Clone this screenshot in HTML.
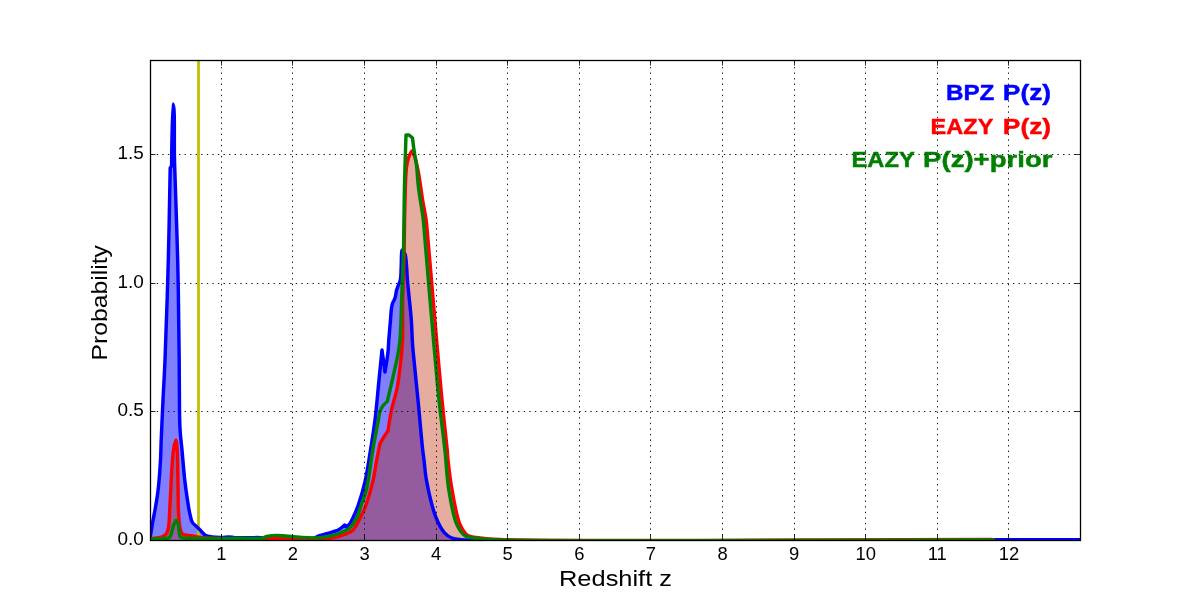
<!DOCTYPE html>
<html><head><meta charset="utf-8"><title>P(z)</title>
<style>html,body{margin:0;padding:0;background:#fff;width:1200px;height:600px;overflow:hidden}svg{display:block}svg{will-change:transform}</style>
</head><body>
<svg width="1200" height="600" viewBox="0 0 1200 600">
<defs><clipPath id="ax"><rect x="150" y="60" width="930" height="480"/></clipPath></defs>
<rect width="1200" height="600" fill="#fff"/>
<g clip-path="url(#ax)">
<path d="M150.00,540.5 L150.00,538.00 C150.40,535.77 150.77,533.81 151.20,531.30 C151.75,528.09 152.34,524.04 153.00,520.30 C153.70,516.38 154.54,512.73 155.30,508.30 C156.24,502.85 157.30,496.87 158.10,490.00 C159.12,481.25 159.98,469.00 160.50,460.00 C160.92,452.67 160.89,447.81 161.20,440.00 C161.64,428.95 162.37,413.33 163.00,400.00 C163.63,386.67 164.32,376.34 165.00,360.00 C166.07,334.18 167.42,292.64 168.30,260.00 C169.14,228.70 170.20,168.00 170.20,168.00 C170.20,168.00 171.60,166.00 171.60,166.00 C171.60,166.00 172.08,104.07 173.00,104.00 C173.29,103.98 173.74,107.01 174.00,110.00 C174.75,118.56 174.09,140.48 174.50,160.00 C175.08,187.62 176.92,226.66 177.70,260.00 C178.48,293.33 178.91,332.39 179.20,360.00 C179.41,379.53 179.27,397.09 179.50,410.00 C179.65,418.17 179.68,423.34 180.10,430.00 C180.52,436.67 181.31,442.66 182.00,450.00 C182.84,458.99 183.80,471.53 184.75,480.00 C185.45,486.25 186.09,490.84 186.90,496.25 C187.71,501.67 188.56,507.80 189.60,512.50 C190.41,516.19 190.85,519.78 192.30,522.25 C193.43,524.18 195.25,525.14 196.70,526.60 C198.15,528.06 199.56,529.55 201.00,531.00 C202.43,532.44 203.56,534.27 205.30,535.25 C207.13,536.28 209.39,536.54 211.80,536.90 C214.71,537.34 218.54,537.42 221.60,537.40 C224.29,537.38 226.84,536.84 229.20,536.90 C231.27,536.96 232.61,537.45 235.00,537.60 C238.83,537.84 245.39,537.66 250.00,537.70 C253.95,537.73 257.91,537.36 261.00,537.80 C263.33,538.13 264.16,539.11 267.00,539.50 C273.54,540.41 291.73,539.78 300.00,539.50 C304.99,539.33 308.53,539.51 312.00,538.70 C314.85,538.03 317.00,536.44 319.50,535.60 C321.90,534.79 324.36,534.36 326.70,533.70 C328.95,533.06 331.22,532.40 333.30,531.70 C335.20,531.06 336.93,530.69 338.70,529.70 C340.74,528.56 344.70,525.00 344.70,525.00 C344.70,525.00 346.30,527.00 346.30,527.00 C346.30,527.00 348.33,525.53 349.30,524.30 C350.69,522.54 351.97,519.77 353.30,517.00 C354.97,513.53 356.65,509.71 358.30,505.00 C360.56,498.56 363.06,490.12 365.00,481.70 C367.23,472.00 368.81,460.43 370.50,450.00 C372.14,439.87 373.66,430.74 375.00,420.00 C376.54,407.64 377.76,392.38 379.00,380.00 C380.07,369.28 382.00,350.00 382.00,350.00 C382.00,350.00 385.00,372.00 385.00,372.00 C385.00,372.00 387.37,357.83 388.00,352.00 C388.49,347.50 388.46,344.51 388.80,340.00 C389.24,334.18 390.01,325.82 390.50,320.00 C390.88,315.49 391.03,311.13 391.50,308.00 C391.81,305.96 392.60,303.00 392.60,303.00 C392.60,303.00 394.36,299.91 395.00,298.00 C395.77,295.69 396.00,292.19 396.60,290.00 C397.03,288.42 397.46,287.46 398.00,286.00 C398.66,284.20 399.76,282.44 400.30,280.00 C401.07,276.48 400.98,271.17 401.20,266.70 C401.42,262.17 401.31,255.84 401.60,253.00 C401.73,251.71 402.10,250.20 402.10,250.20 C402.10,250.20 402.85,251.40 403.30,252.00 C403.80,252.66 404.50,252.82 405.00,254.00 C406.62,257.86 406.85,274.27 407.60,282.00 C408.13,287.47 408.48,290.71 409.00,296.00 C409.68,302.93 410.74,312.36 411.30,320.00 C411.81,326.96 411.97,334.48 412.30,340.00 C412.53,343.91 412.61,345.40 413.00,350.00 C413.88,360.30 416.38,383.33 418.00,400.00 C419.62,416.66 421.55,439.71 422.70,450.00 C423.22,454.61 423.49,456.03 424.00,460.00 C424.74,465.85 425.14,473.60 426.70,481.70 C428.74,492.31 432.47,508.75 436.20,518.00 C438.71,524.22 441.36,529.35 444.50,532.80 C446.80,535.33 449.18,536.86 452.00,538.00 C454.97,539.20 457.58,539.17 462.00,539.60 C470.57,540.43 480.17,540.56 500.00,540.90 C571.33,542.12 992.00,540.90 992.00,540.90 C992.00,540.90 994.00,539.80 994.00,539.80 C994.00,539.80 1054.67,539.80 1085.00,539.80 L1085.00,540.5 Z" fill="#0000ff" fill-opacity="0.5"/>
<path d="M150.00,540.5 L150.00,538.60 C153.00,538.30 156.54,538.23 159.00,537.70 C160.78,537.32 162.24,536.89 163.50,536.20 C164.58,535.61 165.45,535.07 166.20,534.00 C167.26,532.50 167.93,530.24 168.50,527.50 C169.41,523.13 169.33,516.03 169.70,510.00 C170.10,503.56 170.45,496.67 170.80,490.00 C171.15,483.33 171.35,476.66 171.80,470.00 C172.25,463.33 172.61,455.50 173.50,450.00 C174.14,446.07 175.28,439.97 175.90,440.00 C176.51,440.03 176.90,446.09 177.20,450.00 C177.63,455.51 177.55,463.33 177.70,470.00 C177.85,476.67 177.98,483.33 178.10,490.00 C178.22,496.67 178.08,503.56 178.40,510.00 C178.70,516.03 179.01,523.28 179.90,527.50 C180.43,530.00 180.83,532.07 181.90,533.30 C182.71,534.23 183.75,534.50 185.00,534.90 C186.69,535.44 188.89,535.43 191.25,535.80 C194.35,536.28 197.42,537.14 202.00,537.60 C209.98,538.41 224.55,538.51 235.00,538.80 C244.45,539.06 256.24,539.58 262.00,539.30 C264.72,539.17 265.85,538.77 268.00,538.60 C270.47,538.41 272.96,538.29 276.00,538.30 C280.02,538.31 285.72,538.79 290.00,538.90 C293.61,539.00 296.09,538.98 300.00,539.00 C305.52,539.03 314.02,539.29 320.00,539.00 C324.89,538.76 328.90,538.56 333.30,537.70 C337.80,536.82 343.10,535.30 346.70,533.70 C349.38,532.51 351.31,531.71 353.30,529.70 C355.90,527.06 357.93,522.31 360.00,518.30 C362.18,514.09 364.11,510.13 366.00,505.00 C368.44,498.39 371.00,489.38 372.80,481.70 C374.52,474.38 375.42,466.73 376.70,460.00 C377.82,454.12 380.00,443.50 380.00,443.50 C380.00,443.50 382.62,438.84 384.00,436.70 C385.29,434.69 388.00,431.00 388.00,431.00 C388.00,431.00 390.03,416.88 391.50,410.00 C392.94,403.22 395.41,396.10 396.70,390.00 C397.77,384.94 398.25,381.76 399.00,376.00 C400.20,366.80 401.89,352.33 402.50,340.00 C403.15,327.03 402.37,313.33 402.60,300.00 C402.83,286.66 403.53,274.68 403.90,260.00 C404.36,242.02 404.46,217.03 405.00,200.00 C405.40,187.36 405.50,174.52 406.50,167.00 C407.03,163.03 407.52,160.76 408.50,158.00 C409.40,155.46 410.93,151.00 412.00,151.00 C412.90,151.00 413.71,153.86 414.50,156.00 C415.77,159.44 417.02,165.23 418.00,170.00 C419.00,174.89 419.63,180.00 420.40,185.00 C421.17,190.00 421.74,194.65 422.60,200.00 C423.60,206.19 425.20,213.32 426.10,220.00 C427.00,226.65 427.26,231.83 428.00,240.00 C429.17,252.91 430.87,273.33 432.30,290.00 C433.73,306.67 435.07,322.58 436.60,340.00 C438.28,359.09 440.15,380.92 442.00,400.00 C443.69,417.43 446.25,439.70 447.20,450.00 C447.62,454.60 447.55,455.79 448.00,460.00 C448.78,467.26 450.14,479.38 452.00,489.60 C454.04,500.78 456.37,516.26 460.00,524.40 C462.24,529.42 464.36,533.26 467.80,535.50 C471.10,537.64 475.41,537.27 480.00,537.90 C485.83,538.70 488.89,539.06 500.00,539.50 C555.12,541.71 829.00,539.57 993.50,539.60 L993.50,540.5 Z" fill="#ff0000" fill-opacity="0.3"/>
<path d="M150.00,540.5 L150.00,538.60 C153.00,538.30 156.54,538.23 159.00,537.70 C160.78,537.32 162.24,536.89 163.50,536.20 C164.58,535.61 165.45,535.07 166.20,534.00 C167.26,532.50 167.93,530.24 168.50,527.50 C169.41,523.13 169.33,516.03 169.70,510.00 C170.10,503.56 170.45,496.67 170.80,490.00 C171.15,483.33 171.35,476.66 171.80,470.00 C172.25,463.33 172.61,455.50 173.50,450.00 C174.14,446.07 175.28,439.97 175.90,440.00 C176.51,440.03 176.90,446.09 177.20,450.00 C177.63,455.51 177.55,463.33 177.70,470.00 C177.85,476.67 177.98,483.33 178.10,490.00 C178.22,496.67 178.08,503.56 178.40,510.00 C178.70,516.03 179.01,523.28 179.90,527.50 C180.43,530.00 180.83,532.07 181.90,533.30 C182.71,534.23 183.75,534.50 185.00,534.90 C186.69,535.44 188.89,535.43 191.25,535.80 C194.35,536.28 197.42,537.14 202.00,537.60 C209.98,538.41 224.55,538.51 235.00,538.80 C244.45,539.06 256.24,539.58 262.00,539.30 C264.72,539.17 265.85,538.77 268.00,538.60 C270.47,538.41 272.96,538.29 276.00,538.30 C280.02,538.31 285.72,538.79 290.00,538.90 C293.61,539.00 296.09,538.98 300.00,539.00 C305.52,539.03 314.02,539.29 320.00,539.00 C324.89,538.76 328.90,538.56 333.30,537.70 C337.80,536.82 343.10,535.30 346.70,533.70 C349.38,532.51 351.31,531.71 353.30,529.70 C355.90,527.06 357.93,522.31 360.00,518.30 C362.18,514.09 364.11,510.13 366.00,505.00 C368.44,498.39 371.00,489.38 372.80,481.70 C374.52,474.38 375.42,466.73 376.70,460.00 C377.82,454.12 380.00,443.50 380.00,443.50 C380.00,443.50 382.62,438.84 384.00,436.70 C385.29,434.69 388.00,431.00 388.00,431.00 C388.00,431.00 390.03,416.88 391.50,410.00 C392.94,403.22 395.41,396.10 396.70,390.00 C397.77,384.94 398.25,381.76 399.00,376.00 C400.20,366.80 401.89,352.33 402.50,340.00 C403.15,327.03 402.37,313.33 402.60,300.00 C402.83,286.66 403.53,274.68 403.90,260.00 C404.36,242.02 404.46,217.03 405.00,200.00 C405.40,187.36 405.50,174.52 406.50,167.00 C407.03,163.03 407.52,160.76 408.50,158.00 C409.40,155.46 410.93,151.00 412.00,151.00 C412.90,151.00 413.71,153.86 414.50,156.00 C415.77,159.44 417.02,165.23 418.00,170.00 C419.00,174.89 419.63,180.00 420.40,185.00 C421.17,190.00 421.74,194.65 422.60,200.00 C423.60,206.19 425.20,213.32 426.10,220.00 C427.00,226.65 427.26,231.83 428.00,240.00 C429.17,252.91 430.87,273.33 432.30,290.00 C433.73,306.67 435.07,322.58 436.60,340.00 C438.28,359.09 440.15,380.92 442.00,400.00 C443.69,417.43 446.25,439.70 447.20,450.00 C447.62,454.60 447.55,455.79 448.00,460.00 C448.78,467.26 450.14,479.38 452.00,489.60 C454.04,500.78 456.37,516.26 460.00,524.40 C462.24,529.42 464.36,533.26 467.80,535.50 C471.10,537.64 475.41,537.27 480.00,537.90 C485.83,538.70 488.89,539.06 500.00,539.50 C555.12,541.71 829.00,539.57 993.50,539.60 L993.50,540.5 Z" fill="#008000" fill-opacity="0.1"/>
<line x1="198.5" y1="60" x2="198.5" y2="540" stroke="#bfbf00" stroke-width="2.8"/>
<g fill="none" stroke-width="3.45" stroke-linejoin="round" stroke-linecap="round">
<path d="M150.00,538.00 C150.40,535.77 150.77,533.81 151.20,531.30 C151.75,528.09 152.34,524.04 153.00,520.30 C153.70,516.38 154.54,512.73 155.30,508.30 C156.24,502.85 157.30,496.87 158.10,490.00 C159.12,481.25 159.98,469.00 160.50,460.00 C160.92,452.67 160.89,447.81 161.20,440.00 C161.64,428.95 162.37,413.33 163.00,400.00 C163.63,386.67 164.32,376.34 165.00,360.00 C166.07,334.18 167.42,292.64 168.30,260.00 C169.14,228.70 170.20,168.00 170.20,168.00 C170.20,168.00 171.60,166.00 171.60,166.00 C171.60,166.00 172.08,104.07 173.00,104.00 C173.29,103.98 173.74,107.01 174.00,110.00 C174.75,118.56 174.09,140.48 174.50,160.00 C175.08,187.62 176.92,226.66 177.70,260.00 C178.48,293.33 178.91,332.39 179.20,360.00 C179.41,379.53 179.27,397.09 179.50,410.00 C179.65,418.17 179.68,423.34 180.10,430.00 C180.52,436.67 181.31,442.66 182.00,450.00 C182.84,458.99 183.80,471.53 184.75,480.00 C185.45,486.25 186.09,490.84 186.90,496.25 C187.71,501.67 188.56,507.80 189.60,512.50 C190.41,516.19 190.85,519.78 192.30,522.25 C193.43,524.18 195.25,525.14 196.70,526.60 C198.15,528.06 199.56,529.55 201.00,531.00 C202.43,532.44 203.56,534.27 205.30,535.25 C207.13,536.28 209.39,536.54 211.80,536.90 C214.71,537.34 218.54,537.42 221.60,537.40 C224.29,537.38 226.84,536.84 229.20,536.90 C231.27,536.96 232.61,537.45 235.00,537.60 C238.83,537.84 245.39,537.66 250.00,537.70 C253.95,537.73 257.91,537.36 261.00,537.80 C263.33,538.13 264.16,539.11 267.00,539.50 C273.54,540.41 291.73,539.78 300.00,539.50 C304.99,539.33 308.53,539.51 312.00,538.70 C314.85,538.03 317.00,536.44 319.50,535.60 C321.90,534.79 324.36,534.36 326.70,533.70 C328.95,533.06 331.22,532.40 333.30,531.70 C335.20,531.06 336.93,530.69 338.70,529.70 C340.74,528.56 344.70,525.00 344.70,525.00 C344.70,525.00 346.30,527.00 346.30,527.00 C346.30,527.00 348.33,525.53 349.30,524.30 C350.69,522.54 351.97,519.77 353.30,517.00 C354.97,513.53 356.65,509.71 358.30,505.00 C360.56,498.56 363.06,490.12 365.00,481.70 C367.23,472.00 368.81,460.43 370.50,450.00 C372.14,439.87 373.66,430.74 375.00,420.00 C376.54,407.64 377.76,392.38 379.00,380.00 C380.07,369.28 382.00,350.00 382.00,350.00 C382.00,350.00 385.00,372.00 385.00,372.00 C385.00,372.00 387.37,357.83 388.00,352.00 C388.49,347.50 388.46,344.51 388.80,340.00 C389.24,334.18 390.01,325.82 390.50,320.00 C390.88,315.49 391.03,311.13 391.50,308.00 C391.81,305.96 392.60,303.00 392.60,303.00 C392.60,303.00 394.36,299.91 395.00,298.00 C395.77,295.69 396.00,292.19 396.60,290.00 C397.03,288.42 397.46,287.46 398.00,286.00 C398.66,284.20 399.76,282.44 400.30,280.00 C401.07,276.48 400.98,271.17 401.20,266.70 C401.42,262.17 401.31,255.84 401.60,253.00 C401.73,251.71 402.10,250.20 402.10,250.20 C402.10,250.20 402.85,251.40 403.30,252.00 C403.80,252.66 404.50,252.82 405.00,254.00 C406.62,257.86 406.85,274.27 407.60,282.00 C408.13,287.47 408.48,290.71 409.00,296.00 C409.68,302.93 410.74,312.36 411.30,320.00 C411.81,326.96 411.97,334.48 412.30,340.00 C412.53,343.91 412.61,345.40 413.00,350.00 C413.88,360.30 416.38,383.33 418.00,400.00 C419.62,416.66 421.55,439.71 422.70,450.00 C423.22,454.61 423.49,456.03 424.00,460.00 C424.74,465.85 425.14,473.60 426.70,481.70 C428.74,492.31 432.47,508.75 436.20,518.00 C438.71,524.22 441.36,529.35 444.50,532.80 C446.80,535.33 449.18,536.86 452.00,538.00 C454.97,539.20 457.58,539.17 462.00,539.60 C470.57,540.43 480.17,540.56 500.00,540.90 C571.33,542.12 992.00,540.90 992.00,540.90 C992.00,540.90 994.00,539.80 994.00,539.80 C994.00,539.80 1054.67,539.80 1085.00,539.80" stroke="#0000ff"/>
<path d="M150.00,538.60 C153.00,538.30 156.54,538.23 159.00,537.70 C160.78,537.32 162.24,536.89 163.50,536.20 C164.58,535.61 165.45,535.07 166.20,534.00 C167.26,532.50 167.93,530.24 168.50,527.50 C169.41,523.13 169.33,516.03 169.70,510.00 C170.10,503.56 170.45,496.67 170.80,490.00 C171.15,483.33 171.35,476.66 171.80,470.00 C172.25,463.33 172.61,455.50 173.50,450.00 C174.14,446.07 175.28,439.97 175.90,440.00 C176.51,440.03 176.90,446.09 177.20,450.00 C177.63,455.51 177.55,463.33 177.70,470.00 C177.85,476.67 177.98,483.33 178.10,490.00 C178.22,496.67 178.08,503.56 178.40,510.00 C178.70,516.03 179.01,523.28 179.90,527.50 C180.43,530.00 180.83,532.07 181.90,533.30 C182.71,534.23 183.75,534.50 185.00,534.90 C186.69,535.44 188.89,535.43 191.25,535.80 C194.35,536.28 197.42,537.14 202.00,537.60 C209.98,538.41 224.55,538.51 235.00,538.80 C244.45,539.06 256.24,539.58 262.00,539.30 C264.72,539.17 265.85,538.77 268.00,538.60 C270.47,538.41 272.96,538.29 276.00,538.30 C280.02,538.31 285.72,538.79 290.00,538.90 C293.61,539.00 296.09,538.98 300.00,539.00 C305.52,539.03 314.02,539.29 320.00,539.00 C324.89,538.76 328.90,538.56 333.30,537.70 C337.80,536.82 343.10,535.30 346.70,533.70 C349.38,532.51 351.31,531.71 353.30,529.70 C355.90,527.06 357.93,522.31 360.00,518.30 C362.18,514.09 364.11,510.13 366.00,505.00 C368.44,498.39 371.00,489.38 372.80,481.70 C374.52,474.38 375.42,466.73 376.70,460.00 C377.82,454.12 380.00,443.50 380.00,443.50 C380.00,443.50 382.62,438.84 384.00,436.70 C385.29,434.69 388.00,431.00 388.00,431.00 C388.00,431.00 390.03,416.88 391.50,410.00 C392.94,403.22 395.41,396.10 396.70,390.00 C397.77,384.94 398.25,381.76 399.00,376.00 C400.20,366.80 401.89,352.33 402.50,340.00 C403.15,327.03 402.37,313.33 402.60,300.00 C402.83,286.66 403.53,274.68 403.90,260.00 C404.36,242.02 404.46,217.03 405.00,200.00 C405.40,187.36 405.50,174.52 406.50,167.00 C407.03,163.03 407.52,160.76 408.50,158.00 C409.40,155.46 410.93,151.00 412.00,151.00 C412.90,151.00 413.71,153.86 414.50,156.00 C415.77,159.44 417.02,165.23 418.00,170.00 C419.00,174.89 419.63,180.00 420.40,185.00 C421.17,190.00 421.74,194.65 422.60,200.00 C423.60,206.19 425.20,213.32 426.10,220.00 C427.00,226.65 427.26,231.83 428.00,240.00 C429.17,252.91 430.87,273.33 432.30,290.00 C433.73,306.67 435.07,322.58 436.60,340.00 C438.28,359.09 440.15,380.92 442.00,400.00 C443.69,417.43 446.25,439.70 447.20,450.00 C447.62,454.60 447.55,455.79 448.00,460.00 C448.78,467.26 450.14,479.38 452.00,489.60 C454.04,500.78 456.37,516.26 460.00,524.40 C462.24,529.42 464.36,533.26 467.80,535.50 C471.10,537.64 475.41,537.27 480.00,537.90 C485.83,538.70 488.89,539.06 500.00,539.50 C555.12,541.71 829.00,539.57 993.50,539.60" stroke="#ff0000"/>
<path d="M150.00,539.00 C155.00,538.80 161.49,538.75 165.00,538.40 C166.91,538.21 168.34,538.51 169.40,537.70 C170.51,536.86 170.80,534.99 171.40,533.30 C172.17,531.15 172.54,528.00 173.40,525.75 C174.15,523.80 176.10,520.50 176.10,520.50 C176.10,520.50 177.77,522.92 178.30,524.60 C179.02,526.91 178.86,531.04 179.30,533.30 C179.59,534.77 179.65,536.14 180.30,536.90 C180.83,537.51 181.52,537.65 182.50,537.90 C184.23,538.34 186.39,538.28 190.00,538.40 C199.30,538.70 226.89,538.34 240.00,538.30 C248.49,538.27 256.16,538.88 261.00,538.20 C263.64,537.83 264.78,536.95 267.00,536.50 C269.68,535.96 272.92,535.50 276.00,535.40 C279.24,535.30 282.39,535.72 286.00,536.00 C290.28,536.33 294.91,537.01 300.00,537.30 C306.07,537.64 314.03,538.17 320.00,537.70 C324.91,537.31 329.22,536.39 333.30,535.30 C336.91,534.33 340.36,533.09 343.30,531.70 C345.82,530.51 347.95,529.59 350.00,527.70 C352.50,525.40 354.87,521.85 356.70,518.30 C358.72,514.38 359.73,509.60 361.30,505.00 C362.99,500.06 364.92,496.01 366.50,489.60 C368.98,479.54 370.92,460.96 372.80,450.00 C374.14,442.20 375.29,436.58 376.50,430.00 C377.68,423.59 380.00,411.00 380.00,411.00 C380.00,411.00 382.01,406.93 383.30,405.30 C384.48,403.81 387.30,401.50 387.30,401.50 C387.30,401.50 388.88,394.90 390.00,390.00 C391.98,381.34 396.32,363.24 398.00,354.00 C399.04,348.28 399.44,346.12 400.00,340.00 C401.05,328.48 401.39,305.74 402.00,290.00 C402.55,275.92 403.10,264.95 403.50,250.00 C404.00,230.95 404.04,205.25 404.50,185.00 C404.90,167.24 406.00,135.00 406.00,135.00 C406.00,135.00 409.00,135.00 409.00,135.00 C409.00,135.00 412.50,138.00 412.50,138.00 C412.50,138.00 413.39,145.78 414.00,150.00 C414.69,154.73 415.82,159.63 416.50,165.00 C417.28,171.17 417.51,178.82 418.20,185.00 C418.80,190.37 419.52,194.64 420.30,200.00 C421.20,206.19 422.52,213.32 423.30,220.00 C424.08,226.65 424.31,231.83 425.00,240.00 C426.09,252.91 427.78,273.33 429.20,290.00 C430.62,306.67 431.95,322.58 433.50,340.00 C435.20,359.09 437.00,380.92 439.00,400.00 C440.83,417.44 443.20,434.30 444.90,450.00 C446.41,463.96 446.73,476.89 448.80,489.60 C450.76,501.64 453.09,516.27 456.75,524.40 C459.01,529.43 461.03,533.11 464.70,535.50 C468.63,538.06 474.53,537.95 480.00,538.70 C486.19,539.54 488.89,539.64 500.00,540.00 C555.12,541.79 829.00,540.00 993.50,540.00" stroke="#008000"/>
</g>
<text transform="translate(946.0 100) scale(1.057 1)" font-family="&quot;Liberation Sans&quot;, sans-serif" font-weight="bold" font-size="22.9" fill="#0000ff" stroke="#0000ff" stroke-width="0.45">BPZ</text>
<text transform="translate(1002.85 100) scale(1.15 1)" font-family="&quot;Liberation Sans&quot;, sans-serif" font-weight="bold" font-size="22.9" fill="#0000ff" stroke="#0000ff" stroke-width="0.45">P(z)</text>
<text transform="translate(930.6 133.6) scale(1.028 1)" font-family="&quot;Liberation Sans&quot;, sans-serif" font-weight="bold" font-size="22.9" fill="#ff0000" stroke="#ff0000" stroke-width="0.45">EAZY</text>
<text transform="translate(1002.85 133.6) scale(1.15 1)" font-family="&quot;Liberation Sans&quot;, sans-serif" font-weight="bold" font-size="22.9" fill="#ff0000" stroke="#ff0000" stroke-width="0.45">P(z)</text>
<text transform="translate(851.5 166.6) scale(1.037 1)" font-family="&quot;Liberation Sans&quot;, sans-serif" font-weight="bold" font-size="22.9" fill="#008000" stroke="#008000" stroke-width="0.45">EAZY</text>
<text transform="translate(923.1 166.6) scale(1.203 1)" font-family="&quot;Liberation Sans&quot;, sans-serif" font-weight="bold" font-size="22.9" fill="#008000" stroke="#008000" stroke-width="0.45">P(z)+prior</text>
<g stroke="#000" stroke-width="0.9" stroke-dasharray="1.39 4.17"><line x1="221.50" y1="540.95" x2="221.50" y2="60"/><line x1="292.50" y1="540.95" x2="292.50" y2="60"/><line x1="364.50" y1="540.95" x2="364.50" y2="60"/><line x1="436.50" y1="540.95" x2="436.50" y2="60"/><line x1="507.50" y1="540.95" x2="507.50" y2="60"/><line x1="579.50" y1="540.95" x2="579.50" y2="60"/><line x1="650.50" y1="540.95" x2="650.50" y2="60"/><line x1="722.50" y1="540.95" x2="722.50" y2="60"/><line x1="794.50" y1="540.95" x2="794.50" y2="60"/><line x1="865.50" y1="540.95" x2="865.50" y2="60"/><line x1="937.50" y1="540.95" x2="937.50" y2="60"/><line x1="1008.50" y1="540.95" x2="1008.50" y2="60"/><line x1="151.2" y1="411.50" x2="1080" y2="411.50"/><line x1="151.2" y1="283.50" x2="1080" y2="283.50"/><line x1="151.2" y1="154.50" x2="1080" y2="154.50"/></g>
</g>
<g stroke="#000" stroke-width="0.8"><line x1="221.50" y1="540" x2="221.50" y2="534.4"/><line x1="221.50" y1="60" x2="221.50" y2="65.6"/><line x1="292.50" y1="540" x2="292.50" y2="534.4"/><line x1="292.50" y1="60" x2="292.50" y2="65.6"/><line x1="364.50" y1="540" x2="364.50" y2="534.4"/><line x1="364.50" y1="60" x2="364.50" y2="65.6"/><line x1="436.50" y1="540" x2="436.50" y2="534.4"/><line x1="436.50" y1="60" x2="436.50" y2="65.6"/><line x1="507.50" y1="540" x2="507.50" y2="534.4"/><line x1="507.50" y1="60" x2="507.50" y2="65.6"/><line x1="579.50" y1="540" x2="579.50" y2="534.4"/><line x1="579.50" y1="60" x2="579.50" y2="65.6"/><line x1="650.50" y1="540" x2="650.50" y2="534.4"/><line x1="650.50" y1="60" x2="650.50" y2="65.6"/><line x1="722.50" y1="540" x2="722.50" y2="534.4"/><line x1="722.50" y1="60" x2="722.50" y2="65.6"/><line x1="794.50" y1="540" x2="794.50" y2="534.4"/><line x1="794.50" y1="60" x2="794.50" y2="65.6"/><line x1="865.50" y1="540" x2="865.50" y2="534.4"/><line x1="865.50" y1="60" x2="865.50" y2="65.6"/><line x1="937.50" y1="540" x2="937.50" y2="534.4"/><line x1="937.50" y1="60" x2="937.50" y2="65.6"/><line x1="1008.50" y1="540" x2="1008.50" y2="534.4"/><line x1="1008.50" y1="60" x2="1008.50" y2="65.6"/><line x1="150" y1="540.50" x2="155.6" y2="540.50"/><line x1="1080" y1="540.50" x2="1074.4" y2="540.50"/><line x1="150" y1="411.50" x2="155.6" y2="411.50"/><line x1="1080" y1="411.50" x2="1074.4" y2="411.50"/><line x1="150" y1="283.50" x2="155.6" y2="283.50"/><line x1="1080" y1="283.50" x2="1074.4" y2="283.50"/><line x1="150" y1="154.50" x2="155.6" y2="154.50"/><line x1="1080" y1="154.50" x2="1074.4" y2="154.50"/></g>
<rect x="150.5" y="60.5" width="930" height="480" fill="none" stroke="#000" stroke-width="1.3"/>
<g font-family="&quot;Liberation Sans&quot;, sans-serif" font-size="18.4" fill="#000"><text x="221.30" y="559.8" text-anchor="middle">1</text><text x="292.90" y="559.8" text-anchor="middle">2</text><text x="364.50" y="559.8" text-anchor="middle">3</text><text x="436.10" y="559.8" text-anchor="middle">4</text><text x="507.70" y="559.8" text-anchor="middle">5</text><text x="579.30" y="559.8" text-anchor="middle">6</text><text x="650.90" y="559.8" text-anchor="middle">7</text><text x="722.50" y="559.8" text-anchor="middle">8</text><text x="794.10" y="559.8" text-anchor="middle">9</text><text x="865.70" y="559.8" text-anchor="middle">10</text><text x="937.30" y="559.8" text-anchor="middle">11</text><text x="1008.90" y="559.8" text-anchor="middle">12</text><text transform="translate(143.8 544.90) scale(1.03 1)" text-anchor="end">0.0</text><text transform="translate(143.8 416.40) scale(1.03 1)" text-anchor="end">0.5</text><text transform="translate(143.8 287.90) scale(1.03 1)" text-anchor="end">1.0</text><text transform="translate(143.8 159.40) scale(1.03 1)" text-anchor="end">1.5</text></g>
<text transform="translate(615.5 586) scale(1.172 1)" text-anchor="middle" font-family="&quot;Liberation Sans&quot;, sans-serif" font-size="21.7" fill="#000">Redshift z</text>
<text transform="translate(107.4 302.8) rotate(-90) scale(1.139 1)" x="0" y="0" text-anchor="middle" font-family="&quot;Liberation Sans&quot;, sans-serif" font-size="21.7" fill="#000">Probability</text>
</svg>
</body></html>
